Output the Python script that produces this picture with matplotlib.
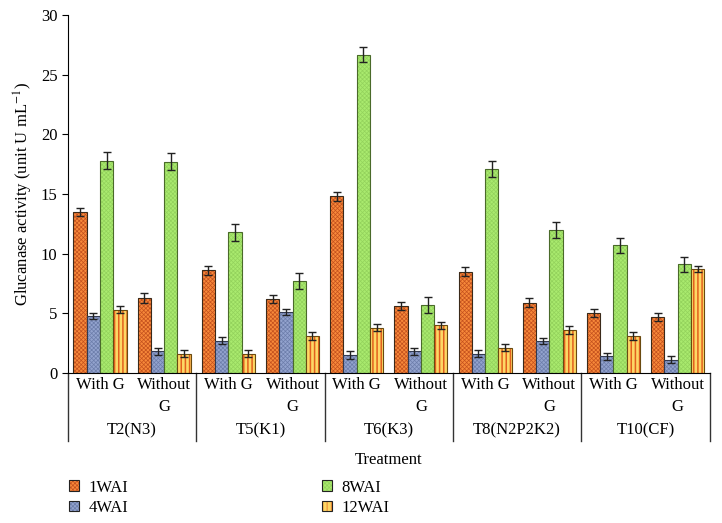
import matplotlib.pyplot as plt
import matplotlib as mpl
import numpy as np
from matplotlib.patches import Patch
from matplotlib.legend_handler import HandlerTuple
import matplotlib.transforms as mtransforms

plt.rcParams['font.family'] = ['Liberation Serif', 'DejaVu Serif']
plt.rcParams['mathtext.fontset'] = 'stix'
plt.rcParams['hatch.linewidth'] = 0.5

groups = ['T2(N3)', 'T5(K1)', 'T6(K3)', 'T8(N2P2K2)', 'T10(CF)']
subgroups = ['With G', 'Without\nG']
series = ['1WAI', '4WAI', '8WAI', '12WAI']

# order: T2 withG, T2 withoutG, T5 withG, ...
wai1 = [13.5, 6.3, 8.6, 6.2, 14.8, 5.6, 8.5, 5.9, 5.0, 4.7]
wai4 = [4.8, 1.8, 2.7, 5.1, 1.5, 1.8, 1.6, 2.7, 1.4, 1.1]
wai8 = [17.8, 17.7, 11.8, 7.7, 26.7, 5.7, 17.1, 12.0, 10.7, 9.1]
wai12 = [5.3, 1.6, 1.6, 3.1, 3.8, 4.0, 2.1, 3.6, 3.1, 8.7]

err1 = [0.35, 0.4, 0.35, 0.35, 0.35, 0.35, 0.35, 0.35, 0.35, 0.35]
err4 = [0.25, 0.3, 0.3, 0.25, 0.3, 0.3, 0.3, 0.25, 0.3, 0.3]
err8 = [0.7, 0.7, 0.7, 0.7, 0.65, 0.7, 0.65, 0.65, 0.65, 0.65]
err12 = [0.3, 0.3, 0.3, 0.3, 0.3, 0.3, 0.3, 0.3, 0.3, 0.25]

values = [wai1, wai4, wai8, wai12]
errors = [err1, err4, err8, err12]
faces = ['#F7893A', '#93A3CE', '#A9EA6E', '#FDD865']
hatch_cols = ['#C4511E', '#6C7DAA', '#93D25C', '#E2601E']
hatches = ['xxxxxxxx', 'xxxxxxxx', 'xxxxxxxx', '||||']
hatch_lw = [0.5, 0.5, 0.5, 1.1]
edges = ['#3a2a1a', '#333a50', '#4a6a2a', '#6a4a10']

fig = plt.figure(figsize=(7.22, 5.23), dpi=100)
ax = fig.add_axes([0.094, 0.287, 0.889, 0.684])

x = np.arange(len(wai1))
w = 0.207
handles = []
for i in range(4):
    pos = x + (i - 1.5) * w
    with mpl.rc_context({'hatch.linewidth': hatch_lw[i]}):
        ax.bar(pos, values[i], w, color=faces[i], edgecolor=hatch_cols[i],
               hatch=hatches[i], linewidth=0)
        hp = Patch(facecolor=faces[i], edgecolor=hatch_cols[i], hatch=hatches[i], linewidth=0)
    ax.bar(pos, values[i], w, fill=False, edgecolor=edges[i], linewidth=0.8)
    ax.errorbar(pos, values[i], yerr=errors[i], fmt='none', ecolor='#222222',
                elinewidth=1, capsize=3, capthick=1)
    handles.append((hp, Patch(fill=False, edgecolor='#222222', linewidth=0.8)))

ax.set_xlim(-0.5, 9.5)
ax.set_ylim(0, 30)
ax.set_yticks(range(0, 31, 5))
ax.tick_params(axis='y', labelsize=12, direction='out', length=4)
ax.set_xticks([])
ax.spines['top'].set_visible(False)
ax.spines['right'].set_visible(False)
ax.set_ylabel('Glucanase activity (unit U mL$^{-1}$)', fontsize=12)

trans = mtransforms.blended_transform_factory(ax.transData, ax.transAxes)
for j in range(10):
    ax.text(x[j], -0.012, subgroups[j % 2], transform=trans, ha='center', va='top',
            fontsize=12, linespacing=1.5)
for g in range(5):
    ax.text(2 * g + 0.5, -0.16, groups[g], transform=trans, ha='center', va='center',
            fontsize=12)
for b in range(6):
    ax.plot([2 * b - 0.5, 2 * b - 0.5], [0, -0.19], transform=trans, color='#333333',
            lw=1, clip_on=False)

fig.text(0.538, 0.12, 'Treatment', ha='center', va='center', fontsize=12)

fig.legend(handles, series, handler_map={tuple: HandlerTuple(ndivide=1)},
           loc='upper left', bbox_to_anchor=(0.095, 0.083), ncol=2, frameon=False,
           fontsize=12, handlelength=0.6, handleheight=0.6, columnspacing=11.6,
           labelspacing=0.25, handletextpad=0.6, borderaxespad=0, borderpad=0)

fig.savefig('out.png', dpi=100)
